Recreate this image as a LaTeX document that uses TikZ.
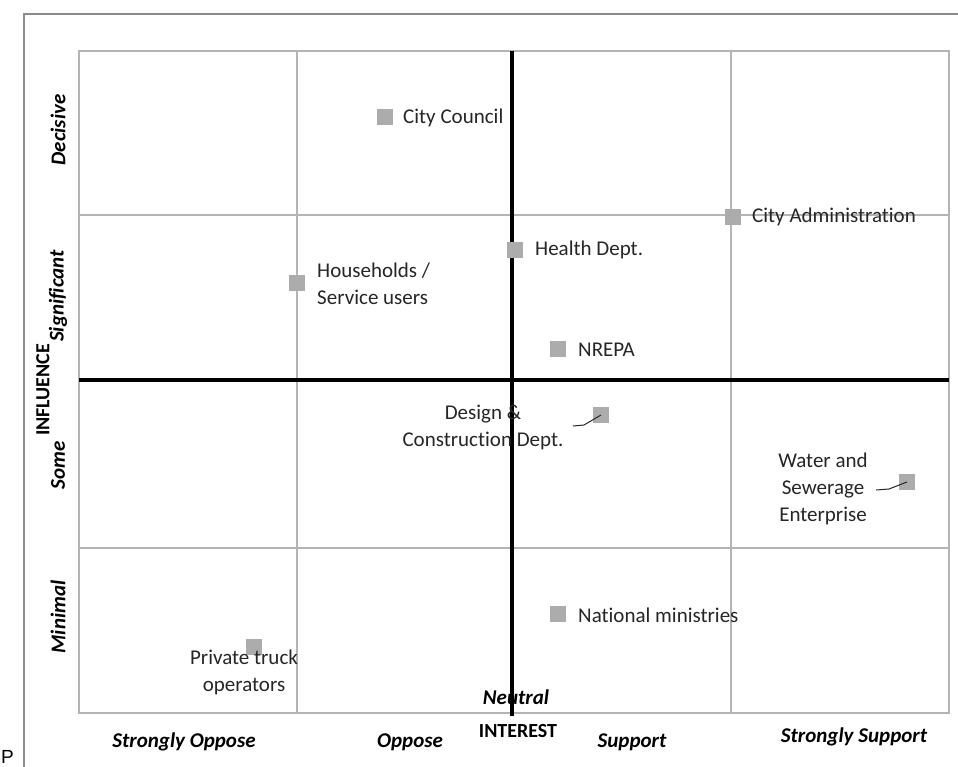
\documentclass[tikz,border=0pt]{standalone}
\usepackage{fontspec}
\setmainfont{Carlito}[Ligatures=NoCommon]
\newfontfamily\arialike{Liberation Sans}
\begin{document}
\begin{tikzpicture}[x=1pt,y=-1pt,
  frameline/.style={draw=frame, line width=2pt},
  gridline/.style={draw=grid, line width=1.5pt},
  axisline/.style={draw=black, line width=4.5pt},
  marker/.style={fill=markerfill, minimum size=16pt, inner sep=0pt, outer sep=0pt},
  actor/.style={font=\fontsize{21}{27}\selectfont, text=txt, inner sep=0pt},
  scale label/.style={font=\fontsize{21}{24}\selectfont\bfseries\itshape, text=black, inner sep=0pt},
  axis title/.style={font=\fontsize{20}{24}\selectfont\bfseries, text=black, inner sep=0pt},
  leader/.style={draw=txt, line width=1pt}]
\definecolor{frame}{RGB}{140,140,140}
\definecolor{grid}{RGB}{180,180,180}
\definecolor{markerfill}{RGB}{172,172,172}
\definecolor{txt}{RGB}{38,38,38}
\useasboundingbox (0,0) rectangle (958,767);
\fill[white] (0,0) rectangle (958,767);

% outer frame (top and left edges)
\draw[frameline] (24,767) -- (24,14) -- (958,14);

% plot area and grid
\draw[gridline] (79,51) rectangle (949,713);
\draw[gridline] (297,51) -- (297,713);
\draw[gridline] (731,51) -- (731,713);
\draw[gridline] (79,215) -- (949,215);
\draw[gridline] (79,548) -- (949,548);

% main axes
\draw[axisline] (79,380) -- (949,380);
\draw[axisline] (512,51) -- (512,716);

% influence scale
\node[scale label, rotate=90] (decisive) at (58,130) {Decisive};
\node[scale label, rotate=90] (significant) at (58,296) {Significant};
\node[axis title, rotate=90] (influence) at (43,390) {INFLUENCE};
\node[scale label, rotate=90] (some) at (58,465) {Some};
\node[scale label, rotate=90] (minimal) at (58,617) {Minimal};

% interest scale
\node[scale label] (neutral) at (516,697) {Neutral};
\node[axis title] (interest) at (518,731) {INTEREST};
\node[scale label] (sopp) at (184,742) {Strongly Oppose};
\node[scale label] (opp) at (410,742) {Oppose};
\node[scale label] (sup) at (632,742) {Support};
\node[scale label] (ssup) at (854,737) {Strongly Support};
\node[font=\arialike\fontsize{19}{22}\selectfont, anchor=base west, inner sep=0pt] (pmark) at (1,763) {P};

% leader lines (drawn below the markers)
\coordinate (dcend) at (573,426);
\coordinate (wsend) at (876,490);
\node[marker] (dcsq) at (601,415) {};
\node[marker] (wssq) at (907,482) {};
\draw[leader] (dcend) -- (584,425) -- (dcsq.center);
\draw[leader] (wsend) -- (889,489) -- (wssq.center);

% stakeholders
\node[marker] (ccsq) at (385,117) {};
\node[actor, anchor=west] (cc) at (403,118) {City Council};

\node[marker] (casq) at (733,217) {};
\node[actor, anchor=west] (ca) at (752,217) {City Administration};

\node[marker] (hdsq) at (515,250) {};
\node[actor, anchor=west] (hd) at (535,250) {Health Dept.};

\node[marker] (hhsq) at (297,283) {};
\node[actor, anchor=west, align=left] (hh) at (317,284) {Households /\\Service users};

\node[marker] (nrsq) at (558,349) {};
\node[actor, anchor=west] (nr) at (578,350) {NREPA};

\node[actor, align=center] (dc) at (483,427) {Design \&\\Construction Dept.};

\node[actor, align=center] (ws) at (823,489) {Water and\\Sewerage\\Enterprise};

\node[marker] (nmsq) at (558,614) {};
\node[actor, anchor=west] (nm) at (578,615) {National ministries};

\node[marker] (ptsq) at (254,647) {};
\node[actor, align=center] (pt) at (244,672) {Private truck\\operators};
\end{tikzpicture}
\end{document}
